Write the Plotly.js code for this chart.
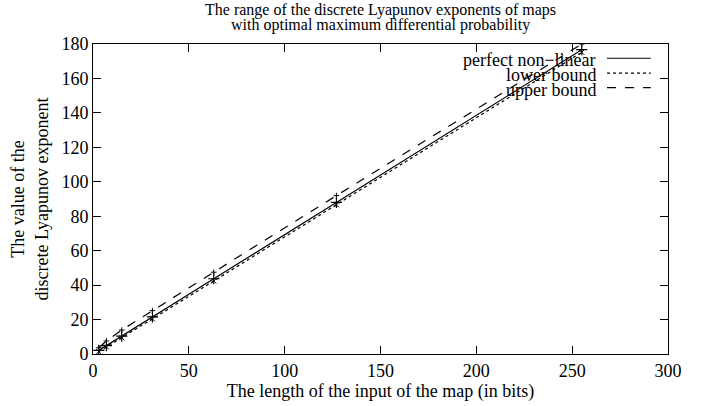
<!DOCTYPE html>
<html>
<head>
<meta charset="utf-8">
<script src="https://cdn.plot.ly/plotly-3.0.1.min.js"></script>
<style>html,body{margin:0;padding:0;background:#fff;}#chart{width:709px;height:406px;}</style>
</head>
<body>
<div id="chart"></div>
<script>
// Input lengths (bits)
var bits = [3, 7, 15, 31, 63, 127, 255];
// Discrete Lyapunov exponent values
var perfectNonLinear = [2.1, 4.9, 10.4, 21.5, 43.7, 88.0, 176.7];
var lowerBound = [1.4, 4.1, 9.4, 20.4, 42.4, 86.6, 175.2];
var upperBound = [3.6, 7.6, 13.9, 25.2, 47.5, 92.0, 180.0];
var seriesNames = ["perfect non\u2212linear", "lower bound", "upper bound"];
var titleLines = ["The range of the discrete Lyapunov exponents of maps", "with optimal maximum differential probability"];
var xTicks = [0, 50, 100, 150, 200, 250, 300];
var yTicks = [0, 20, 40, 60, 80, 100, 120, 140, 160, 180];

var font = "Liberation Serif, Tinos, DejaVu Serif, serif";
var traces = [
  {x: bits, y: perfectNonLinear, mode: "lines+markers", name: seriesNames[0], showlegend: false,
   line: {color: "#000", width: 1.2, dash: "solid"},
   marker: {symbol: "cross-thin-open", size: 8, color: "#000", line: {width: 1.2, color: "#000"}}},
  {x: bits, y: lowerBound, mode: "lines+markers", name: seriesNames[1], showlegend: false,
   line: {color: "#000", width: 1.2, dash: "dot"},
   marker: {symbol: "x-thin-open", size: 5, color: "#000", line: {width: 1, color: "#000"}}},
  {x: bits, y: upperBound, mode: "lines+markers", name: seriesNames[2], showlegend: false,
   line: {color: "#000", width: 1.2, dash: "dash"},
   marker: {symbol: "cross-thin-open", size: 4, color: "#000", line: {width: 1, color: "#000"}}}
];

// custom gnuplot-style legend (text left, sample right)
var legY = [0.948, 0.9, 0.853];
var legDash = ["solid", "dot", "dash"];
var annotations = [], shapes = [];
for (var i = 0; i < 3; i++) {
  annotations.push({xref: "paper", yref: "paper", x: 0.878, y: legY[i], xanchor: "right", yanchor: "middle",
    text: seriesNames[i], showarrow: false, font: {family: font, size: 18, color: "#000"}});
  shapes.push({type: "line", xref: "paper", yref: "paper", x0: 0.894, x1: 0.97, y0: legY[i] + 0.006, y1: legY[i] + 0.006,
    line: {color: "#000", width: 1.2, dash: legDash[i]}});
}
// second title line (tight gnuplot line spacing)
annotations.push({xref: "paper", yref: "paper", x: 0.5, y: 1.061, xanchor: "center", yanchor: "middle",
  text: titleLines[1], showarrow: false, font: {family: font, size: 16, color: "#000"}});

var axisCommon = {
  showgrid: false, zeroline: false, showline: true, linecolor: "#000", linewidth: 1,
  mirror: "allticks", ticks: "inside", ticklen: 8, tickcolor: "#000", tickwidth: 1,
  tickfont: {family: font, size: 18, color: "#000"}
};

var layout = {
  width: 709, height: 406,
  margin: {l: 93, r: 41, t: 44, b: 52},
  paper_bgcolor: "#fff", plot_bgcolor: "#fff",
  showlegend: false,
  font: {family: font, color: "#000"},
  title: {text: titleLines[0],
    font: {family: font, size: 16, color: "#000"}, xref: "paper", x: 0.5, xanchor: "center", yref: "container", y: 0.978, yanchor: "middle"},
  xaxis: Object.assign({}, axisCommon, {range: [0, 300], tickvals: xTicks, ticktext: xTicks.map(String),
    title: {text: "The length of the input of the map (in bits)", font: {family: font, size: 18, color: "#000"}, standoff: 4}}),
  yaxis: Object.assign({}, axisCommon, {range: [0, 180], tickvals: yTicks, ticktext: yTicks.map(String),
    title: {text: "The value of the<br>discrete Lyapunov exponent", font: {family: font, size: 18, color: "#000"}, standoff: 8}}),
  annotations: annotations,
  shapes: shapes
};

Plotly.newPlot("chart", traces, layout, {displayModeBar: false, staticPlot: true});
</script>
</body>
</html>
